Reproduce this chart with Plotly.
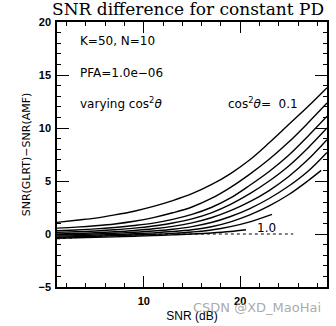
import plotly.graph_objects as go

# SNR (dB) sample points for each curve
snr_full = [1, 3, 5, 7, 9, 11, 13, 15, 17, 19, 21, 23, 25, 27, 29]
snr_07 = [1, 3, 5, 7, 9, 11, 13, 15, 17, 19, 21, 23, 25, 27, 28.4]
snr_08 = [1, 3, 5, 7, 9, 11, 13, 15, 17, 19, 21, 23.3]
snr_09 = [1, 3, 5, 7, 9, 11, 13, 15, 17, 19, 20.6]
snr_10 = [1, 7, 13, 19, 25.5]

# SNR(GLRT) - SNR(AMF) in dB, one list per cos^2(theta)
diff_01 = [1.1, 1.3, 1.5, 1.8, 2.15, 2.6, 3.15, 3.8, 4.65, 5.7, 7.0, 8.6, 10.3, 12.0, 13.8]
diff_02 = [0.55, 0.65, 0.78, 0.95, 1.2, 1.55, 2.0, 2.55, 3.35, 4.4, 5.65, 7.05, 8.65, 10.45, 12.35]
diff_03 = [0.3, 0.38, 0.48, 0.62, 0.8, 1.03, 1.38, 1.85, 2.5, 3.4, 4.6, 5.9, 7.4, 9.2, 11.1]
diff_04 = [0.15, 0.21, 0.29, 0.4, 0.55, 0.76, 1.04, 1.43, 2.0, 2.8, 3.8, 5.0, 6.4, 8.1, 10.0]
diff_05 = [0.0, 0.05, 0.12, 0.21, 0.33, 0.49, 0.72, 1.05, 1.53, 2.2, 3.05, 4.1, 5.4, 7.0, 8.9]
diff_06 = [-0.1, -0.06, 0.0, 0.07, 0.16, 0.28, 0.45, 0.7, 1.08, 1.65, 2.4, 3.35, 4.5, 5.9, 7.7]
diff_07 = [-0.2, -0.16, -0.11, -0.05, 0.02, 0.11, 0.23, 0.4, 0.68, 1.15, 1.8, 2.65, 3.7, 5.0, 6.0]
diff_08 = [-0.3, -0.26, -0.21, -0.16, -0.1, -0.03, 0.06, 0.19, 0.38, 0.7, 1.15, 1.85]
diff_09 = [-0.4, -0.36, -0.32, -0.27, -0.21, -0.15, -0.08, 0.0, 0.1, 0.24, 0.4]
diff_10 = [-0.45, -0.1, 0.0, 0.0, 0.0]

curves = [
    (snr_full, diff_01), (snr_full, diff_02), (snr_full, diff_03),
    (snr_full, diff_04), (snr_full, diff_05), (snr_full, diff_06),
    (snr_07, diff_07), (snr_08, diff_08), (snr_09, diff_09),
]

fig = go.Figure()
for xs, ys in curves:
    fig.add_trace(go.Scatter(x=xs, y=ys, mode="lines",
                             line=dict(color="black", width=1.4, shape="spline", smoothing=1.0),
                             showlegend=False, hoverinfo="skip"))
fig.add_trace(go.Scatter(x=snr_10, y=diff_10, mode="lines",
                         line=dict(color="black", width=1.2, dash="dot"),
                         showlegend=False, hoverinfo="skip"))

sans = "Liberation Sans"
note_font = "DejaVu Sans"
serif = "DejaVu Serif"

ann = [
    dict(x=3.2, y=18.2, text="K=50, N=10"),
    dict(x=3.2, y=15.2, text="PFA=1.0e\u221206"),
    dict(x=3.2, y=12.4, text="varying cos<sup>2</sup><i>\u03b8</i>"),
    dict(x=18.5, y=12.4, text="cos<sup>2</sup><i>\u03b8</i>=  0.1"),
    dict(x=21.5, y=0.6, text="1.0"),
]
for a in ann:
    fig.add_annotation(x=a["x"], y=a["y"], text=a["text"], xanchor="left",
                       yanchor="middle", showarrow=False,
                       font=dict(family=note_font, size=12, color="black"))

# watermark text over the lower right corner
fig.add_annotation(xref="paper", yref="paper", x=0.74, y=-0.079, text="CSDN @XD_MaoHai",
                   showarrow=False, xanchor="center", yanchor="middle",
                   font=dict(family="DejaVu Sans", size=13, color="rgba(160,160,160,0.9)"))

axis_common = dict(showgrid=False, zeroline=False, showline=True, linecolor="black",
                   linewidth=1.5, mirror="ticks", ticks="inside", tickcolor="black",
                   tickwidth=1.2, automargin=False,
                   tickfont=dict(family=sans, size=11, color="black", weight="bold"))

fig.update_xaxes(range=[1, 29], tickvals=[10, 20], ticklen=11, ticklabelstandoff=3,
                 minor=dict(dtick=2, tick0=0, ticks="inside", ticklen=4, tickcolor="black", tickwidth=1),
                 title=dict(text="SNR (dB)", font=dict(family=sans, size=12, color="black"), standoff=6),
                 **axis_common)
fig.update_yaxes(range=[-5, 20], tickvals=[-5, 0, 5, 10, 15, 20], ticklen=12, ticklabelstandoff=2,
                 minor=dict(dtick=1, tick0=0, ticks="inside", ticklen=4, tickcolor="black", tickwidth=1),
                 title=dict(text="SNR(GLRT)\u2212SNR(AMF)", font=dict(family="DejaVu Sans", size=11, color="black"), standoff=6),
                 **axis_common)

fig.update_layout(
    width=336, height=326,
    margin=dict(l=57, r=9, t=22, b=39),
    paper_bgcolor="white", plot_bgcolor="white",
    title=dict(text="SNR difference for constant PD", xref="container", x=0.155, xanchor="left",
               yref="container", y=0.99, yanchor="top",
               font=dict(family=serif, size=17, color="black")),
)

fig.write_html("out.html")
